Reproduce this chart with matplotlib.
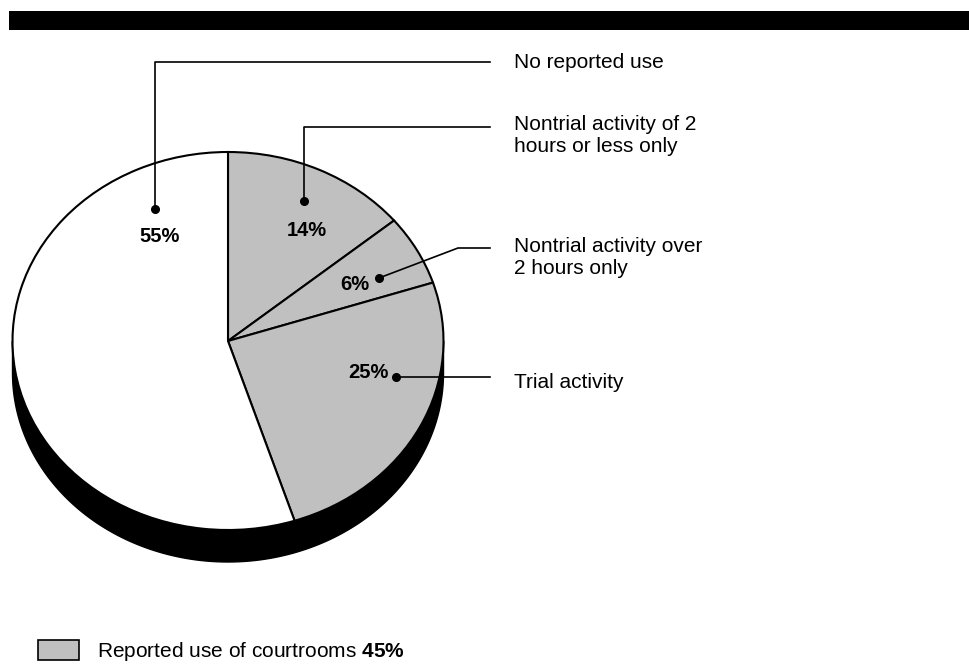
import numpy as np
import matplotlib
matplotlib.use('Agg')
import matplotlib.pyplot as plt
from matplotlib.patches import Patch, Polygon, Rectangle

plt.rcParams['font.family'] = ['Liberation Sans', 'DejaVu Sans']
plt.rcParams['mathtext.fontset'] = 'custom'
plt.rcParams['mathtext.rm'] = 'Liberation Sans'
plt.rcParams['mathtext.bf'] = 'Liberation Sans:bold'

# Courtroom use shares, clockwise from 12 o'clock
categories = ['Nontrial activity of 2\nhours or less only',
              'Nontrial activity over\n2 hours only',
              'Trial activity',
              'No reported use']
shares = [14, 6, 25, 55]
slice_colors = ['#c0c0c0', '#c0c0c0', '#c0c0c0', 'white']
reported_total = 45

# pie geometry in pixels (centre, x radius, y radius, rim depth)
CX, CY, RX, RY, DEPTH = 228, 341, 215.5, 189, 32
W, H = 970, 664


def px(x, y):
    # pixel position -> data units where the pie is a unit circle
    return (x - CX) / RX, (CY - y) / RY


fig = plt.figure(figsize=(W / 100, H / 100), dpi=100)
ax = fig.add_axes([0, 0, 1, 1])

# black rim under the pie
t = np.linspace(np.pi, 2 * np.pi, 200)
d = DEPTH / RY
rim = np.vstack([np.column_stack([np.cos(t), np.sin(t)]),
                 np.column_stack([np.cos(t[::-1]), np.sin(t[::-1]) - d])])
ax.add_patch(Polygon(rim, closed=True, facecolor='black', edgecolor='black',
                     linewidth=1, zorder=1))

wedges, _ = ax.pie(shares, startangle=90, counterclock=False,
                   colors=slice_colors,
                   wedgeprops=dict(edgecolor='black', linewidth=1.5, zorder=2))
ax.set_aspect('auto')
ax.set_xlim(px(0, 0)[0], px(W, 0)[0])
ax.set_ylim(px(0, H)[1], px(0, 0)[1])
ax.axis('off')

# percentage labels inside the slices
pct_pos = [(307, 230), (355, 285), (368, 372), (160, 237)]
for v, (x, y) in zip(shares, pct_pos):
    ax.text(*px(x, y), f'{v}%', ha='center', va='center',
            fontsize=14.5, fontweight='bold', zorder=5)

# leader lines with dots, and category labels
leaders = [
    [(304, 201), (304, 127), (490, 127)],
    [(379, 278), (458, 248), (490, 248)],
    [(396, 377), (490, 377)],
    [(155, 209), (155, 62), (490, 62)],
]
label_top = [114.5, 237.5, 372.5, 53.5]
for name, pts, ty in zip(categories, leaders, label_top):
    xs, ys = zip(*[px(x, y) for x, y in pts])
    ax.plot(xs, ys, color='black', linewidth=1.2, zorder=6)
    ax.plot(xs[0], ys[0], 'o', color='black', markersize=5.5, zorder=7)
    ax.text(*px(514, ty), name, ha='left', va='top', fontsize=15,
            linespacing=1.2, zorder=6)

# black band at the top
fig.patches.append(Rectangle((9 / W, 1 - 30 / H), 1 - 9 / W, 19 / H,
                             transform=fig.transFigure, facecolor='black',
                             edgecolor='none'))

handle = Patch(facecolor='#c0c0c0', edgecolor='black', linewidth=1.2)
fig.legend([handle], [f'Reported use of courtrooms $\\mathbf{{{reported_total}\\%}}$'],
           loc='lower left', bbox_to_anchor=(38 / W, 1 / H), frameon=False,
           fontsize=15, handlelength=1.97, handleheight=1.15,
           handletextpad=0.85, borderpad=0, borderaxespad=0)

fig.savefig('out.png', dpi=100)
